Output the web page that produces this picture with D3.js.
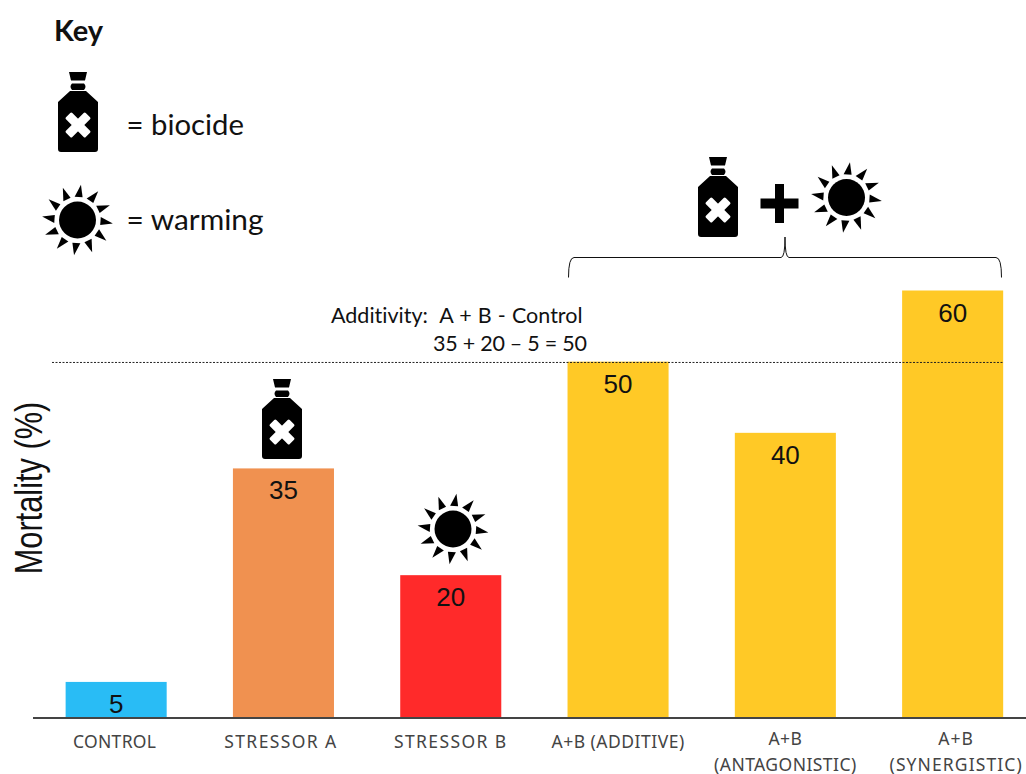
<html>
<head>
<meta charset="utf-8">
<style>
  body { margin: 0; background: #fff; }
  svg { display: block; }
  text { font-variant-ligatures: none; }
</style>
</head>
<body>
<script src="https://cdn.jsdelivr.net/npm/d3@7"></script>
<script>
var categories = ["CONTROL", "STRESSOR A", "STRESSOR B", "A+B (ADDITIVE)", "A+B|(ANTAGONISTIC)", "A+B|(SYNERGISTIC)"];
var mortality = [5, 35, 20, 50, 40, 60];
var barColors = ["#29bcf5", "#f09150", "#ff2a2a", "#ffc926", "#ffc926", "#ffc926"];
var labelNudge = [-1.5, -2.5, 0, 0, 0, 3.5];
var labelSpacing = [0.3, 1.4, 1.4, 0.5, 0.45, 1.1];
var additiveLevel = 50;
var yLabel = "Mortality (%)";
var additivityLines = ["Additivity:  A + B - Control", "35 + 20 \u2013 5 = 50"];

var width = 1026, height = 774;
var svg = d3.select("body").append("svg")
    .attr("width", width)
    .attr("height", height);

var x = d3.scaleBand().domain(categories).range([32.5, 1036.3]).paddingInner(0.396).paddingOuter(0.198);
var y = d3.scaleLinear().domain([0, 60]).range([717.5, 290.5]);

// icons
var defs = svg.append("defs");

var bottle = d3.path();
bottle.moveTo(11, 0); bottle.lineTo(29, 0); bottle.lineTo(27, 8.5); bottle.lineTo(13, 8.5); bottle.closePath();
bottle.moveTo(14, 11.5); bottle.lineTo(26, 11.5); bottle.quadraticCurveTo(29, 14.5, 26, 18); bottle.lineTo(14, 18); bottle.quadraticCurveTo(11, 14.5, 14, 11.5); bottle.closePath();
bottle.moveTo(12, 19); bottle.lineTo(28, 19); bottle.lineTo(40, 30); bottle.lineTo(40, 77); bottle.quadraticCurveTo(40, 80, 37, 80);
bottle.lineTo(3, 80); bottle.quadraticCurveTo(0, 80, 0, 77); bottle.lineTo(0, 30); bottle.closePath();

var bottleIcon = defs.append("g").attr("id", "bottle");
bottleIcon.append("path").attr("d", bottle.toString()).attr("fill", "#000");
bottleIcon.append("g").attr("transform", "translate(20,53) rotate(45)")
    .selectAll("rect").data([[-14, -4.5, 28, 9], [-4.5, -14, 9, 28]]).join("rect")
    .attr("x", d => d[0]).attr("y", d => d[1]).attr("width", d => d[2]).attr("height", d => d[3])
    .attr("rx", 1.5).attr("fill", "#fff");

var sunIcon = defs.append("g").attr("id", "sun");
sunIcon.append("circle").attr("r", 18.5).attr("fill", "#000");
sunIcon.selectAll("path").data(d3.range(12)).join("path")
    .attr("d", "M-4.5,-23L3.5,-23L1,-35.5Z")
    .attr("fill", "#000")
    .attr("transform", d => "rotate(" + (4 + d * 30) + ")");

// bars
svg.append("g").selectAll("rect").data(mortality).join("rect")
    .attr("x", (d, i) => x(categories[i]))
    .attr("y", d => y(d))
    .attr("width", x.bandwidth())
    .attr("height", d => y(0) - y(d))
    .attr("fill", (d, i) => barColors[i]);

svg.append("g").selectAll("text").data(mortality).join("text")
    .attr("x", (d, i) => x(categories[i]) + x.bandwidth() / 2)
    .attr("y", d => y(d) + 31)
    .attr("text-anchor", "middle")
    .attr("font-family", "Liberation Sans")
    .attr("font-size", 26)
    .attr("fill", "#111")
    .text(d => d);

// x axis
var xAxis = svg.append("g")
    .attr("transform", "translate(0," + y(0) + ")")
    .call(d3.axisBottom(x).tickSize(0).tickFormat(""));
xAxis.select(".domain").attr("stroke", "#444").attr("stroke-width", 2);
xAxis.selectAll(".tick text").remove();
xAxis.selectAll(".tick").append("text")
    .attr("text-anchor", "middle")
    .attr("font-family", "Noto Sans")
    .attr("font-size", 17.5)
    .attr("fill", "#444")
    .each(function(d, k) {
        var parts = d.split("|");
        d3.select(this).attr("letter-spacing", labelSpacing[k])
            .selectAll("tspan").data(parts).join("tspan")
            .attr("x", labelNudge[k])
            .attr("y", (p, i) => parts.length > 1 ? 27 + i * 26 : 30)
            .text(p => p);
    });

// y label
svg.append("text")
    .attr("transform", "translate(42,488) rotate(-90) scale(0.81,1)")
    .attr("text-anchor", "middle")
    .attr("font-family", "Liberation Sans")
    .attr("font-size", 38)
    .attr("fill", "#111")
    .text(yLabel);

// additivity line and note
svg.append("line")
    .attr("x1", 52).attr("x2", x(categories[5]) + x.bandwidth())
    .attr("y1", y(additiveLevel) + 0.8).attr("y2", y(additiveLevel) + 0.8)
    .attr("stroke", "#222")
    .attr("stroke-dasharray", "2 1.5");

svg.append("text").attr("x", 331).attr("y", 323)
    .attr("font-family", "Lato").attr("font-size", 21.5).attr("fill", "#111")
    .style("white-space", "pre")
    .attr("word-spacing", 0.6)
    .text(additivityLines[0]);
svg.append("text").attr("x", 433).attr("y", 351)
    .attr("font-family", "Lato").attr("font-size", 21.5).attr("fill", "#111")
    .attr("letter-spacing", -0.25)
    .text(additivityLines[1]);

// key
svg.append("text").attr("x", 54).attr("y", 41)
    .attr("font-family", "Lato").attr("font-weight", "bold").attr("font-size", 29).attr("fill", "#111")
    .text("Key");
svg.append("text").attr("x", 126.5).attr("y", 135)
    .attr("font-family", "Lato").attr("font-size", 29.3).attr("fill", "#111")
    .text("= biocide");
svg.append("text").attr("x", 126.5).attr("y", 230)
    .attr("font-family", "Lato").attr("font-size", 29.8).attr("fill", "#111")
    .text("= warming");

// icon placement
svg.append("use").attr("href", "#bottle").attr("x", 58).attr("y", 72);
svg.append("use").attr("href", "#sun").attr("x", 77.5).attr("y", 220);
svg.append("use").attr("href", "#bottle").attr("x", 262).attr("y", 379);
svg.append("use").attr("href", "#sun").attr("x", 453).attr("y", 529);
svg.append("use").attr("href", "#bottle").attr("x", 698).attr("y", 157);
svg.append("use").attr("href", "#sun").attr("x", 846.5).attr("y", 197.5);

// plus sign
svg.append("path")
    .attr("d", "M775,184h9v14.5h14.5v10h-14.5v14.5h-9v-14.5h-14.5v-10h14.5Z")
    .attr("fill", "#000");

// brace over the combined bars
var brace = d3.path();
brace.moveTo(568.5, 277.5);
brace.quadraticCurveTo(568.5, 257.5, 574, 257.5);
brace.lineTo(781, 257.5);
brace.quadraticCurveTo(785, 257.5, 785, 237);
brace.quadraticCurveTo(785, 257.5, 789, 257.5);
brace.lineTo(996, 257.5);
brace.quadraticCurveTo(1001.5, 257.5, 1001.5, 277.5);
svg.append("path").attr("d", brace.toString()).attr("fill", "none").attr("stroke", "#111").attr("stroke-width", 1);
</script>
</body>
</html>
